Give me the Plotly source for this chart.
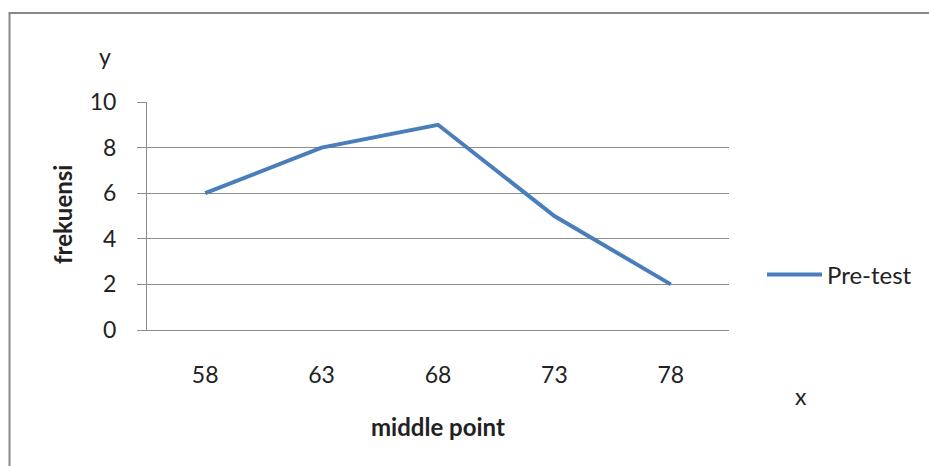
import plotly.graph_objects as go

categories = ["58", "63", "68", "73", "78"]
pretest = [6, 8, 9, 5, 2]
y_ticks = [0, 2, 4, 6, 8, 10]

W, H = 929, 466
L, R, T, B = 147, 200, 102, 136
pw = W - L - R
ph = H - T - B

def px(x):
    return (x - L) / pw

def py(y):
    return (H - B - y) / ph

font = "Lato, 'Open Sans', sans-serif"
grid = "#8c8c8c"

fig = go.Figure()
fig.add_trace(go.Scatter(
    x=categories, y=pretest, mode="lines", name="Pre-test",
    line=dict(color="#4A7EBB", width=4),
))

def label(text, x, y, size, angle=0):
    return dict(text=text, x=px(x), y=py(y), xref="paper", yref="paper",
                xanchor="center", yanchor="middle", showarrow=False,
                textangle=angle, font=dict(size=size))

fig.update_layout(
    width=W, height=H,
    margin=dict(l=L, r=R, t=T, b=B),
    paper_bgcolor="white", plot_bgcolor="white",
    font=dict(family=font, size=23, color="#222"),
    showlegend=True,
    legend=dict(x=px(762), y=py(275), xanchor="left", yanchor="middle",
                font=dict(size=24, color="#222"), bgcolor="rgba(0,0,0,0)",
                itemwidth=55),
    xaxis=dict(type="category", range=[-0.5, 4.5], showgrid=False,
               showline=True, linecolor=grid, linewidth=1, ticks="",
               ticklabelstandoff=24, tickfont=dict(size=23)),
    yaxis=dict(range=[0, 10], tickvals=y_ticks, showgrid=True, gridcolor=grid,
               gridwidth=1, zeroline=False, showline=True, linecolor=grid,
               linewidth=1, ticks="outside", ticklen=9, tickcolor=grid,
               ticklabelstandoff=16, tickfont=dict(size=23)),
    shapes=[dict(type="rect", xref="paper", yref="paper",
                 x0=px(9.5), x1=2.0, y0=-2.0, y1=py(13),
                 line=dict(color="#888888", width=2), layer="below")],
    annotations=[
        label("y", 105, 56, 23),
        label("x", 801, 396, 23),
        label("<b>frekuensi</b>", 62, 215, 24, -90),
        label("<b>middle point</b>", 438, 426, 24),
    ],
)

fig.write_html("out.html", config={"displayModeBar": False},
               post_script="document.body.style.margin='0';document.body.style.overflow='hidden';")
